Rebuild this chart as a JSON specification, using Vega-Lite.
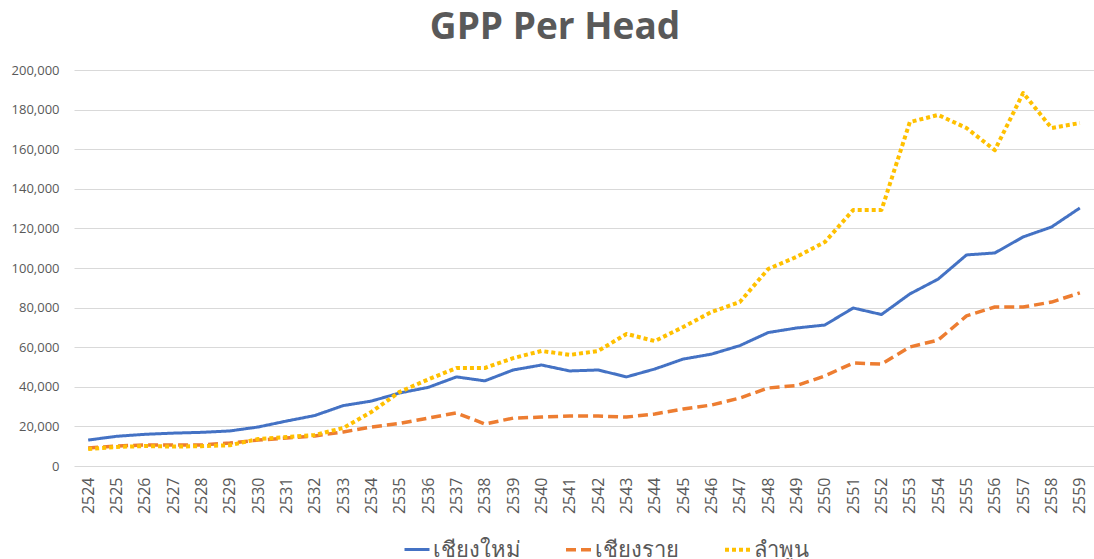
{
  "$schema": "https://vega.github.io/schema/vega-lite/v6.json",
  "width": 1020,
  "height": 396,
  "autosize": {"type": "none"},
  "padding": {"left": 74, "top": 70, "right": 0, "bottom": 93},
  "background": "white",
  "config": {"view": {"stroke": null}, "font": "Liberation Sans"},
  "title": {"text": "GPP Per Head", "font": "Open Sans", "fontSize": 37, "fontWeight": "bold", "color": "#595959", "anchor": "middle", "dx": -29, "offset": 17},
  "datasets": {
    "gpp": [
      {"year": "2524", "province": "เชียงใหม่", "value": 13100}, {"year": "2525", "province": "เชียงใหม่", "value": 15000}, {"year": "2526", "province": "เชียงใหม่", "value": 16000}, {"year": "2527", "province": "เชียงใหม่", "value": 16600}, {"year": "2528", "province": "เชียงใหม่", "value": 17000}, {"year": "2529", "province": "เชียงใหม่", "value": 17700}, {"year": "2530", "province": "เชียงใหม่", "value": 19700}, {"year": "2531", "province": "เชียงใหม่", "value": 22700}, {"year": "2532", "province": "เชียงใหม่", "value": 25500}, {"year": "2533", "province": "เชียงใหม่", "value": 30500}, {"year": "2534", "province": "เชียงใหม่", "value": 32800}, {"year": "2535", "province": "เชียงใหม่", "value": 36900}, {"year": "2536", "province": "เชียงใหม่", "value": 39700}, {"year": "2537", "province": "เชียงใหม่", "value": 45000}, {"year": "2538", "province": "เชียงใหม่", "value": 43000}, {"year": "2539", "province": "เชียงใหม่", "value": 48500}, {"year": "2540", "province": "เชียงใหม่", "value": 51000}, {"year": "2541", "province": "เชียงใหม่", "value": 48000}, {"year": "2542", "province": "เชียงใหม่", "value": 48500}, {"year": "2543", "province": "เชียงใหม่", "value": 45000}, {"year": "2544", "province": "เชียงใหม่", "value": 49000}, {"year": "2545", "province": "เชียงใหม่", "value": 54000}, {"year": "2546", "province": "เชียงใหม่", "value": 56500}, {"year": "2547", "province": "เชียงใหม่", "value": 60800}, {"year": "2548", "province": "เชียงใหม่", "value": 67400}, {"year": "2549", "province": "เชียงใหม่", "value": 69700}, {"year": "2550", "province": "เชียงใหม่", "value": 71200}, {"year": "2551", "province": "เชียงใหม่", "value": 79800}, {"year": "2552", "province": "เชียงใหม่", "value": 76500}, {"year": "2553", "province": "เชียงใหม่", "value": 86900}, {"year": "2554", "province": "เชียงใหม่", "value": 94400}, {"year": "2555", "province": "เชียงใหม่", "value": 106600}, {"year": "2556", "province": "เชียงใหม่", "value": 107600}, {"year": "2557", "province": "เชียงใหม่", "value": 115700}, {"year": "2558", "province": "เชียงใหม่", "value": 120700}, {"year": "2559", "province": "เชียงใหม่", "value": 130300},
      {"year": "2524", "province": "เชียงราย", "value": 9100}, {"year": "2525", "province": "เชียงราย", "value": 10100}, {"year": "2526", "province": "เชียงราย", "value": 10600}, {"year": "2527", "province": "เชียงราย", "value": 10600}, {"year": "2528", "province": "เชียงราย", "value": 10600}, {"year": "2529", "province": "เชียงราย", "value": 11600}, {"year": "2530", "province": "เชียงราย", "value": 13100}, {"year": "2531", "province": "เชียงราย", "value": 14100}, {"year": "2532", "province": "เชียงราย", "value": 15200}, {"year": "2533", "province": "เชียงราย", "value": 17200}, {"year": "2534", "province": "เชียงราย", "value": 19700}, {"year": "2535", "province": "เชียงราย", "value": 21500}, {"year": "2536", "province": "เชียงราย", "value": 24200}, {"year": "2537", "province": "เชียงราย", "value": 26800}, {"year": "2538", "province": "เชียงราย", "value": 21200}, {"year": "2539", "province": "เชียงราย", "value": 24200}, {"year": "2540", "province": "เชียงราย", "value": 24700}, {"year": "2541", "province": "เชียงราย", "value": 25200}, {"year": "2542", "province": "เชียงราย", "value": 25200}, {"year": "2543", "province": "เชียงราย", "value": 24700}, {"year": "2544", "province": "เชียงราย", "value": 26300}, {"year": "2545", "province": "เชียงราย", "value": 28800}, {"year": "2546", "province": "เชียงราย", "value": 30800}, {"year": "2547", "province": "เชียงราย", "value": 34300}, {"year": "2548", "province": "เชียงราย", "value": 39400}, {"year": "2549", "province": "เชียงราย", "value": 40600}, {"year": "2550", "province": "เชียงราย", "value": 45500}, {"year": "2551", "province": "เชียงราย", "value": 52000}, {"year": "2552", "province": "เชียงราย", "value": 51500}, {"year": "2553", "province": "เชียงราย", "value": 60100}, {"year": "2554", "province": "เชียงราย", "value": 63600}, {"year": "2555", "province": "เชียงราย", "value": 75800}, {"year": "2556", "province": "เชียงราย", "value": 80300}, {"year": "2557", "province": "เชียงราย", "value": 80300}, {"year": "2558", "province": "เชียงราย", "value": 82800}, {"year": "2559", "province": "เชียงราย", "value": 87400},
      {"year": "2524", "province": "ลำพูน", "value": 8600}, {"year": "2525", "province": "ลำพูน", "value": 9600}, {"year": "2526", "province": "ลำพูน", "value": 10100}, {"year": "2527", "province": "ลำพูน", "value": 9800}, {"year": "2528", "province": "ลำพูน", "value": 10000}, {"year": "2529", "province": "ลำพูน", "value": 10500}, {"year": "2530", "province": "ลำพูน", "value": 13600}, {"year": "2531", "province": "ลำพูน", "value": 14600}, {"year": "2532", "province": "ลำพูน", "value": 15700}, {"year": "2533", "province": "ลำพูน", "value": 19200}, {"year": "2534", "province": "ลำพูน", "value": 27300}, {"year": "2535", "province": "ลำพูน", "value": 37500}, {"year": "2536", "province": "ลำพูน", "value": 43700}, {"year": "2537", "province": "ลำพูน", "value": 49500}, {"year": "2538", "province": "ลำพูน", "value": 49500}, {"year": "2539", "province": "ลำพูน", "value": 54500}, {"year": "2540", "province": "ลำพูน", "value": 58100}, {"year": "2541", "province": "ลำพูน", "value": 56100}, {"year": "2542", "province": "ลำพูน", "value": 58100}, {"year": "2543", "province": "ลำพูน", "value": 66700}, {"year": "2544", "province": "ลำพูน", "value": 63100}, {"year": "2545", "province": "ลำพูน", "value": 70200}, {"year": "2546", "province": "ลำพูน", "value": 77800}, {"year": "2547", "province": "ลำพูน", "value": 82800}, {"year": "2548", "province": "ลำพูน", "value": 99500}, {"year": "2549", "province": "ลำพูน", "value": 105600}, {"year": "2550", "province": "ลำพูน", "value": 113100}, {"year": "2551", "province": "ลำพูน", "value": 129300}, {"year": "2552", "province": "ลำพูน", "value": 129300}, {"year": "2553", "province": "ลำพูน", "value": 173700}, {"year": "2554", "province": "ลำพูน", "value": 177300}, {"year": "2555", "province": "ลำพูน", "value": 170700}, {"year": "2556", "province": "ลำพูน", "value": 159500}, {"year": "2557", "province": "ลำพูน", "value": 188400}, {"year": "2558", "province": "ลำพูน", "value": 170700}, {"year": "2559", "province": "ลำพูน", "value": 173200}
    ]
  },
  "data": {"name": "gpp"},
  "mark": {"type": "line", "strokeCap": "butt", "strokeJoin": "round"},
  "encoding": {
    "x": {
      "field": "year", "type": "ordinal",
      "scale": {"type": "point", "padding": 0.5},
      "axis": {"title": null, "labelAngle": -90, "labelFontSize": 16, "labelColor": "#595959", "labelFont": "Open Sans", "labelPadding": 11, "ticks": false, "domain": false, "grid": false}
    },
    "y": {
      "field": "value", "type": "quantitative",
      "scale": {"domain": [0, 200000], "nice": false},
      "axis": {"title": null, "values": [0, 20000, 40000, 60000, 80000, 100000, 120000, 140000, 160000, 180000, 200000], "format": ",d", "labelFontSize": 13, "labelFont": "Open Sans", "labelColor": "#595959", "labelPadding": 15, "ticks": false, "domain": false, "gridColor": "#d9d9d9", "gridWidth": 1}
    },
    "color": {
      "field": "province", "type": "nominal",
      "scale": {"domain": ["เชียงใหม่", "เชียงราย", "ลำพูน"], "range": ["#4472C4", "#ED7D31", "#FFC000"]},
      "legend": {"title": null, "orient": "none", "direction": "horizontal", "legendX": 329, "legendY": 465, "symbolType": "stroke", "symbolSize": 625, "symbolStrokeWidth": 3, "labelFontSize": 22, "labelColor": "#595959", "columnPadding": 38, "labelOffset": 2}
    },
    "strokeDash": {
      "field": "province", "type": "nominal",
      "scale": {"domain": ["เชียงใหม่", "เชียงราย", "ลำพูน"], "range": [[1, 0], [10, 5], [4, 3]]},
      "legend": {"title": null, "orient": "none", "direction": "horizontal", "legendX": 329, "legendY": 465, "symbolType": "stroke", "symbolSize": 625, "symbolStrokeWidth": 3, "labelFontSize": 22, "labelColor": "#595959", "columnPadding": 38, "labelOffset": 2}
    },
    "strokeWidth": {
      "field": "province", "type": "nominal",
      "scale": {"domain": ["เชียงใหม่", "เชียงราย", "ลำพูน"], "range": [3, 4, 4]},
      "legend": null
    }
  }
}
